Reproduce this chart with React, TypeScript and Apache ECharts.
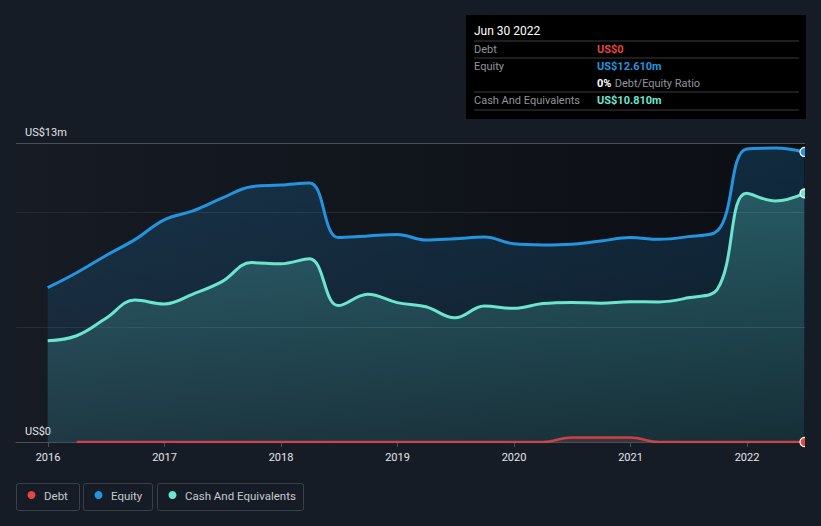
import React, { useEffect, useRef } from "react";
import * as echarts from "echarts";

const periods = [
  "2015-12-31", "2016-03-31", "2016-06-30", "2016-09-30", "2016-12-31",
  "2017-03-31", "2017-06-30", "2017-09-30", "2017-12-31",
  "2018-03-31", "2018-06-30", "2018-09-30", "2018-12-31",
  "2019-03-31", "2019-06-30", "2019-09-30", "2019-12-31",
  "2020-03-31", "2020-06-30", "2020-09-30", "2020-12-31",
  "2021-03-31", "2021-06-30", "2021-09-30", "2021-12-31",
  "2022-03-31", "2022-06-30",
];
const equity = [
  6.71, 7.36, 8.1, 8.8, 9.66,
  10.05, 10.6, 11.1, 11.17,
  11.26, 8.89, 8.96, 9.02,
  8.78, 8.84, 8.91, 8.62,
  8.57, 8.6, 8.74, 8.89,
  8.81, 8.93, 9.18, 12.74,
  12.78, 12.61,
];
const cash = [
  4.4, 4.62, 5.37, 6.17, 6.0,
  6.43, 6.97, 7.8, 7.75,
  7.97, 5.93, 6.42, 6.06,
  5.88, 5.4, 5.91, 5.81,
  6.02, 6.07, 6.03, 6.1,
  6.09, 6.27, 6.64, 10.81,
  10.48, 10.81,
];
const debt: (number | null)[] = [
  null, 0, 0, 0, 0,
  0, 0, 0, 0,
  0, 0, 0, 0,
  0, 0, 0, 0,
  0, 0.2, 0.2, 0.2,
  0, 0, 0, 0,
  0, 0,
];
const yearTicks = [2016, 2017, 2018, 2019, 2020, 2021, 2022];
const yTickLabels: Record<number, string> = { 0: "US$0", 13: "US$13m" };
const legendNames = ["Debt", "Equity", "Cash And Equivalents"];
const tooltipTitle = "Jun 30 2022";
const tooltipRows = [
  { label: "Debt", value: "US$0" },
  { label: "Equity", value: "US$12.610m" },
  { label: "", value: "0%", extra: "Debt/Equity Ratio" },
  { label: "Cash And Equivalents", value: "US$10.810m" },
];

const BG = "#161c26";
const DEBT_C = "#e64545";
const EQ_C = "#2394df";
const CASH_C = "#6ce5d0";
const FONT = "Roboto, 'Noto Sans', sans-serif";

function decYear(s: string): number {
  const d = new Date(s + "T00:00:00Z");
  const y = d.getUTCFullYear();
  const start = Date.UTC(y, 0, 1);
  const end = Date.UTC(y + 1, 0, 1);
  return y + (d.getTime() - start) / (end - start);
}

function makeData(vals: (number | null)[], color: string) {
  const xs = periods.map(decYear);
  return vals.map((v, i) => {
    if (i === vals.length - 1) {
      return {
        value: [xs[i], v],
        symbol: "circle",
        symbolSize: 9,
        itemStyle: { color, borderColor: "#ffffff", borderWidth: 1.2 },
      };
    }
    return { value: [xs[i], v] };
  });
}

export default function App() {
  const ref = useRef<HTMLDivElement>(null);
  useEffect(() => {
    if (!ref.current) return;
    const chart = echarts.init(ref.current, null, { renderer: "svg" });

    const tooltipEls: any[] = [
      { type: "rect", shape: { x: 466, y: 15, width: 340, height: 104 }, style: { fill: "#000000" }, z: 100 },
      { type: "text", x: 474, y: 31, style: { text: tooltipTitle, fill: "#ffffff", font: `12px ${FONT}`, verticalAlign: "middle" }, z: 101 },
    ];
    const lineYs = [41, 58, 92, 110];
    lineYs.forEach((y) =>
      tooltipEls.push({ type: "line", shape: { x1: 474, y1: y, x2: 799, y2: y }, style: { stroke: "#3d3d3d", lineWidth: 1 }, z: 101 })
    );
    const rowYs = [49.5, 66.5, 83.5, 100.5];
    const valColors = [DEBT_C, EQ_C, "#ffffff", CASH_C];
    tooltipRows.forEach((r, i) => {
      if (r.label)
        tooltipEls.push({ type: "text", x: 474, y: rowYs[i], style: { text: r.label, fill: "#8f949b", font: `11px ${FONT}`, verticalAlign: "middle" }, z: 101 });
      if (r.extra) {
        tooltipEls.push({
          type: "text", x: 597, y: rowYs[i],
          style: {
            text: `{b|${r.value}} {g|${r.extra}}`,
            verticalAlign: "middle",
            rich: {
              b: { fill: "#ffffff", font: `bold 11px ${FONT}` },
              g: { fill: "#8f949b", font: `11px ${FONT}` },
            },
          },
          z: 101,
        });
      } else {
        tooltipEls.push({ type: "text", x: 597, y: rowYs[i], style: { text: r.value, fill: valColors[i], font: `bold 11px ${FONT}`, verticalAlign: "middle" }, z: 101 });
      }
    });

    const legendColors = [DEBT_C, EQ_C, CASH_C];
    const legendBoxes = [
      { x: 16, w: 63 },
      { x: 83, w: 69 },
      { x: 157, w: 146 },
    ];
    const legendEls: any[] = [];
    legendNames.forEach((n, i) => {
      const b = legendBoxes[i];
      legendEls.push({ type: "rect", shape: { x: b.x + 0.5, y: 483.5, width: b.w, height: 27, r: 2 }, style: { fill: "none", stroke: "#3a3f48", lineWidth: 1 }, z: 50 });
      legendEls.push({ type: "circle", shape: { cx: b.x + 15.5, cy: 495, r: 4 }, style: { fill: legendColors[i] }, z: 51 });
      legendEls.push({ type: "text", x: b.x + 28, y: 495.5, style: { text: n, fill: "#c5c9cf", font: `11.5px ${FONT}`, verticalAlign: "middle" }, z: 51 });
    });

    const option: any = {
      animation: false,
      backgroundColor: BG,
      textStyle: { fontFamily: FONT },
      grid: {
        left: 16, right: 16, top: 143, bottom: 84,
        show: true,
        borderWidth: 0,
        backgroundColor: new echarts.graphic.LinearGradient(0, 0, 1, 0, [
          { offset: 0, color: "#161b24" },
          { offset: 1, color: "#0b0e13" },
        ]),
      },
      xAxis: {
        type: "value",
        min: 2015.7253,
        max: 2022.4978,
        axisLine: { show: true, onZero: false, lineStyle: { color: "#4a4f58", width: 1 } },
        axisTick: { show: true, customValues: yearTicks, length: 5, lineStyle: { color: "#4a4f58" } },
        axisLabel: { customValues: yearTicks, color: "#e2e4e8", fontSize: 11, margin: 10, formatter: (v: number) => String(Math.round(v)) },
        splitLine: { show: false },
      },
      yAxis: {
        type: "value",
        min: 0,
        max: 13,
        interval: 5,
        axisLine: { show: false },
        axisTick: { show: false },
        axisLabel: {
          inside: true,
          margin: 9,
          color: "#e2e4e8",
          fontSize: 11,
          verticalAlign: "bottom",
          padding: [0, 0, 5, 0],
          formatter: (v: number) => yTickLabels[v] ?? "",
        },
        splitLine: { show: true, lineStyle: { color: ["#262b33", "#262b33", "#262b33", "#4a4f58"], width: 1 } },
      },
      graphic: [
        { type: "rect", shape: { x: 805, y: 138, width: 16, height: 310 }, style: { fill: BG }, z: 90 },
        ...tooltipEls,
        ...legendEls,
      ],
      series: [
        {
          name: "Equity",
          type: "line",
          data: makeData(equity, EQ_C),
          symbol: "none",
          smooth: 0.4,
          lineStyle: { color: EQ_C, width: 3 },
          itemStyle: { color: EQ_C },
          areaStyle: {
            color: new echarts.graphic.LinearGradient(0, 0, 0, 1, [
              { offset: 0, color: "rgba(35,148,223,0.30)" },
              { offset: 1, color: "rgba(35,148,223,0.12)" },
            ]),
          },
          z: 2,
        },
        {
          name: "Cash And Equivalents",
          type: "line",
          data: makeData(cash, CASH_C),
          symbol: "none",
          smooth: 0.4,
          lineStyle: { color: CASH_C, width: 3 },
          itemStyle: { color: CASH_C },
          areaStyle: {
            color: new echarts.graphic.LinearGradient(0, 0, 0, 1, [
              { offset: 0, color: "rgba(95,215,200,0.40)" },
              { offset: 1, color: "rgba(95,215,200,0.16)" },
            ]),
          },
          z: 3,
        },
        {
          name: "Debt",
          type: "line",
          data: makeData(debt, DEBT_C),
          symbol: "none",
          smooth: 0.4,
          connectNulls: false,
          lineStyle: { color: DEBT_C, width: 2.5, opacity: 0.85 },
          itemStyle: { color: DEBT_C },
          areaStyle: { color: "rgba(230,69,69,0.25)" },
          z: 4,
        },
      ],
    };
    chart.setOption(option);
    return () => chart.dispose();
  }, []);
  return <div ref={ref} style={{ position: "fixed", left: 0, top: 0, width: 821, height: 526 }} />;
}
